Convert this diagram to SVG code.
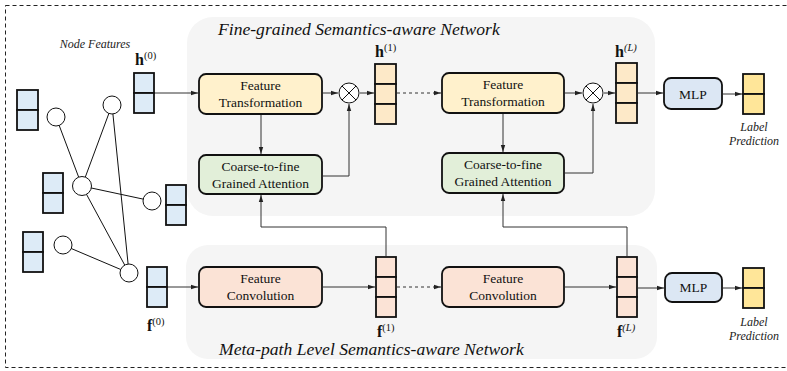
<svg xmlns="http://www.w3.org/2000/svg" width="787" height="371" viewBox="0 0 787 371">
  <style>
    .frame { fill: none; stroke: #222; stroke-width: 1; stroke-dasharray: 4 3; }
    .panel { fill: #f5f5f5; stroke: none; }
    .title { font-family: "Liberation Serif", "Times New Roman", serif; font-style: italic; font-size: 17.6px; fill: #111; }
    .lbl { font-family: "Liberation Serif", "Times New Roman", serif; font-size: 13.5px; fill: #111; text-anchor: middle; }
    .note { font-family: "Liberation Serif", "Times New Roman", serif; font-style: italic; font-size: 12px; fill: #222; text-anchor: middle; }
    .math { font-family: "Liberation Serif", "Times New Roman", serif; font-size: 16px; font-weight: bold; fill: #111; }
    .sup { font-family: "Liberation Serif", "Times New Roman", serif; font-size: 10.5px; font-weight: normal; fill: #111; }
    .box { stroke: #111; stroke-width: 1.8; }
    .ft { fill: #fff1cc; }
    .cg { fill: #e2efd9; }
    .fc { fill: #fbe3d6; }
    .mlp { fill: #dce7f4; }
    .cell { stroke: #111; stroke-width: 1.8; }
    .blue { fill: #ddebf7; }
    .orange { fill: #fde9c8; }
    .peach { fill: #fbe3d6; }
    .gold { fill: #ffe699; }
    .node { fill: #fff; stroke: #111; stroke-width: 1; }
    .edge { stroke: #111; stroke-width: 1; fill: none; }
    .wire { stroke: #333; stroke-width: 1; fill: none; }
    .dash { stroke: #333; stroke-width: 1; fill: none; stroke-dasharray: 3 3; }
  </style>
  <defs>
    <marker id="arrow" markerWidth="8" markerHeight="6" refX="7" refY="3" orient="auto" markerUnits="userSpaceOnUse">
      <path d="M0,0.8 L7,3 L0,5.2 Z" fill="#222"/>
    </marker>
  </defs>

  <!-- outer dashed frame -->
  <rect class="frame" x="5.5" y="5.5" width="790" height="362"/>

  <!-- background panels -->
  <rect id="panel-fine" class="panel" x="187" y="17" width="468" height="199" rx="26"/>
  <rect id="panel-meta" class="panel" x="186" y="245" width="471" height="114" rx="22"/>
  <text class="title" x="218" y="35">Fine-grained Semantics-aware Network</text>
  <text class="title" x="219" y="355">Meta-path Level Semantics-aware Network</text>

  <!-- input graph -->
  <g id="graph">
    <text class="note" x="95" y="48">Node Features</text>
    <g class="edges">
      <line class="edge" x1="56" y1="117" x2="82" y2="186"/>
      <line class="edge" x1="112" y1="105" x2="82" y2="186"/>
      <line class="edge" x1="112" y1="105" x2="129" y2="273"/>
      <line class="edge" x1="82" y1="186" x2="152" y2="201"/>
      <line class="edge" x1="82" y1="186" x2="129" y2="273"/>
      <line class="edge" x1="63" y1="245" x2="129" y2="273"/>
    </g>
    <circle class="node" cx="56" cy="117" r="9"/>
    <circle class="node" cx="112" cy="105" r="9"/>
    <circle class="node" cx="82" cy="186" r="9.5"/>
    <circle class="node" cx="152" cy="201" r="9"/>
    <circle class="node" cx="63" cy="245" r="9"/>
    <circle class="node" cx="129" cy="273" r="9"/>
    <g class="vec">
      <rect class="cell blue" x="17" y="90" width="21" height="20"/>
      <rect class="cell blue" x="17" y="110" width="21" height="20"/>
      <rect class="cell blue" x="43" y="173" width="20" height="20"/>
      <rect class="cell blue" x="43" y="193" width="20" height="20"/>
      <rect class="cell blue" x="166" y="185" width="20" height="20"/>
      <rect class="cell blue" x="166" y="205" width="20" height="20"/>
      <rect class="cell blue" x="23" y="232" width="20" height="20"/>
      <rect class="cell blue" x="23" y="252" width="20" height="20"/>
    </g>
  </g>

  <!-- input embeddings -->
  <g id="h0">
    <rect class="cell blue" x="134" y="73" width="20" height="20"/>
    <rect class="cell blue" x="134" y="93" width="20" height="20"/>
    <text class="math" x="135" y="65">h<tspan class="sup" dy="-6">(0)</tspan></text>
  </g>
  <g id="f0">
    <rect class="cell blue" x="147" y="267" width="20" height="20"/>
    <rect class="cell blue" x="147" y="287" width="20" height="20"/>
    <text class="math" x="147" y="331">f<tspan class="sup" dy="-6">(0)</tspan></text>
  </g>

  <!-- fine-grained branch, layer 1 -->
  <g id="ft1">
    <rect class="box ft" x="199" y="74" width="123" height="40" rx="7"/>
    <text class="lbl" x="260.5" y="90">Feature</text>
    <text class="lbl" x="260.5" y="107">Transformation</text>
  </g>
  <g id="cg1">
    <rect class="box cg" x="199" y="155" width="123" height="39" rx="7"/>
    <text class="lbl" x="260.5" y="171">Coarse-to-fine</text>
    <text class="lbl" x="260.5" y="188">Grained Attention</text>
  </g>
  <g id="mul1">
    <circle class="node" cx="349" cy="93" r="10"/>
    <path class="edge" d="M342,86 L356,100 M356,86 L342,100"/>
  </g>
  <g id="h1">
    <rect class="cell orange" x="375" y="64" width="21" height="20"/>
    <rect class="cell orange" x="375" y="84" width="21" height="20"/>
    <rect class="cell orange" x="375" y="104" width="21" height="20"/>
    <text class="math" x="375" y="57">h<tspan class="sup" dy="-6">(1)</tspan></text>
  </g>

  <!-- fine-grained branch, layer L -->
  <g id="ft2">
    <rect class="box ft" x="442" y="73" width="122" height="40" rx="7"/>
    <text class="lbl" x="503" y="89">Feature</text>
    <text class="lbl" x="503" y="106">Transformation</text>
  </g>
  <g id="cg2">
    <rect class="box cg" x="442" y="153" width="122" height="40" rx="7"/>
    <text class="lbl" x="503" y="169">Coarse-to-fine</text>
    <text class="lbl" x="503" y="186">Grained Attention</text>
  </g>
  <g id="mul2">
    <circle class="node" cx="593" cy="93" r="10"/>
    <path class="edge" d="M586,86 L600,100 M600,86 L586,100"/>
  </g>
  <g id="hL">
    <rect class="cell orange" x="616" y="63" width="21" height="20"/>
    <rect class="cell orange" x="616" y="83" width="21" height="20"/>
    <rect class="cell orange" x="616" y="103" width="21" height="20"/>
    <text class="math" x="615" y="57">h<tspan class="sup" dy="-6" font-style="italic">(L)</tspan></text>
  </g>

  <!-- meta-path branch -->
  <g id="fc1">
    <rect class="box fc" x="199" y="267" width="123" height="40" rx="7"/>
    <text class="lbl" x="260.5" y="283">Feature</text>
    <text class="lbl" x="260.5" y="300">Convolution</text>
  </g>
  <g id="f1">
    <rect class="cell peach" x="376" y="257" width="20" height="20"/>
    <rect class="cell peach" x="376" y="277" width="20" height="20"/>
    <rect class="cell peach" x="376" y="297" width="20" height="20"/>
    <text class="math" x="377" y="337">f<tspan class="sup" dy="-6">(1)</tspan></text>
  </g>
  <g id="fc2">
    <rect class="box fc" x="442" y="267" width="122" height="40" rx="7"/>
    <text class="lbl" x="503" y="283">Feature</text>
    <text class="lbl" x="503" y="300">Convolution</text>
  </g>
  <g id="fL">
    <rect class="cell peach" x="617" y="257" width="20" height="20"/>
    <rect class="cell peach" x="617" y="277" width="20" height="20"/>
    <rect class="cell peach" x="617" y="297" width="20" height="20"/>
    <text class="math" x="617" y="337">f<tspan class="sup" dy="-6" font-style="italic">(L)</tspan></text>
  </g>

  <!-- prediction heads -->
  <g id="mlp1">
    <rect class="box mlp" x="664" y="78" width="58" height="31" rx="7"/>
    <text class="lbl" x="693" y="98.5">MLP</text>
  </g>
  <g id="pred1">
    <rect class="cell gold" x="743" y="74" width="21" height="20"/>
    <rect class="cell gold" x="743" y="94" width="21" height="20"/>
    <text class="note" x="754" y="131">Label</text>
    <text class="note" x="754" y="145">Prediction</text>
  </g>
  <g id="mlp2">
    <rect class="box mlp" x="665" y="273" width="57" height="29" rx="7"/>
    <text class="lbl" x="693.5" y="292">MLP</text>
  </g>
  <g id="pred2">
    <rect class="cell gold" x="743" y="268" width="21" height="20"/>
    <rect class="cell gold" x="743" y="288" width="21" height="20"/>
    <text class="note" x="754" y="326">Label</text>
    <text class="note" x="754" y="340">Prediction</text>
  </g>

  <!-- connectors -->
  <g id="connectors">
    <line class="wire" x1="155" y1="93" x2="198" y2="93" marker-end="url(#arrow)"/>
    <line class="wire" x1="323" y1="93" x2="338" y2="93" marker-end="url(#arrow)"/>
    <line class="wire" x1="360" y1="93" x2="374" y2="93" marker-end="url(#arrow)"/>
    <line class="wire" x1="261" y1="115" x2="261" y2="154" marker-end="url(#arrow)"/>
    <polyline class="wire" points="323,176 349,176 349,104" marker-end="url(#arrow)"/>
    <line class="dash" x1="397" y1="93" x2="441" y2="93" marker-end="url(#arrow)"/>

    <line class="wire" x1="565" y1="93" x2="582" y2="93" marker-end="url(#arrow)"/>
    <line class="wire" x1="604" y1="93" x2="615" y2="93" marker-end="url(#arrow)"/>
    <line class="wire" x1="503" y1="114" x2="503" y2="152" marker-end="url(#arrow)"/>
    <polyline class="wire" points="565,173 593,173 593,104" marker-end="url(#arrow)"/>
    <line class="wire" x1="638" y1="93" x2="663" y2="93" marker-end="url(#arrow)"/>
    <line class="wire" x1="723" y1="94" x2="742" y2="94" marker-end="url(#arrow)"/>

    <line class="wire" x1="168" y1="287" x2="198" y2="287" marker-end="url(#arrow)"/>
    <line class="wire" x1="323" y1="287" x2="375" y2="287" marker-end="url(#arrow)"/>
    <line class="dash" x1="397" y1="287" x2="441" y2="287" marker-end="url(#arrow)"/>
    <line class="wire" x1="565" y1="287" x2="616" y2="287" marker-end="url(#arrow)"/>
    <line class="wire" x1="638" y1="288" x2="664" y2="288" marker-end="url(#arrow)"/>
    <line class="wire" x1="723" y1="288" x2="742" y2="288" marker-end="url(#arrow)"/>

    <polyline class="wire" points="386,256 386,227 261,227 261,195" marker-end="url(#arrow)"/>
    <polyline class="wire" points="627,256 627,227 503,227 503,194" marker-end="url(#arrow)"/>
  </g>
</svg>
